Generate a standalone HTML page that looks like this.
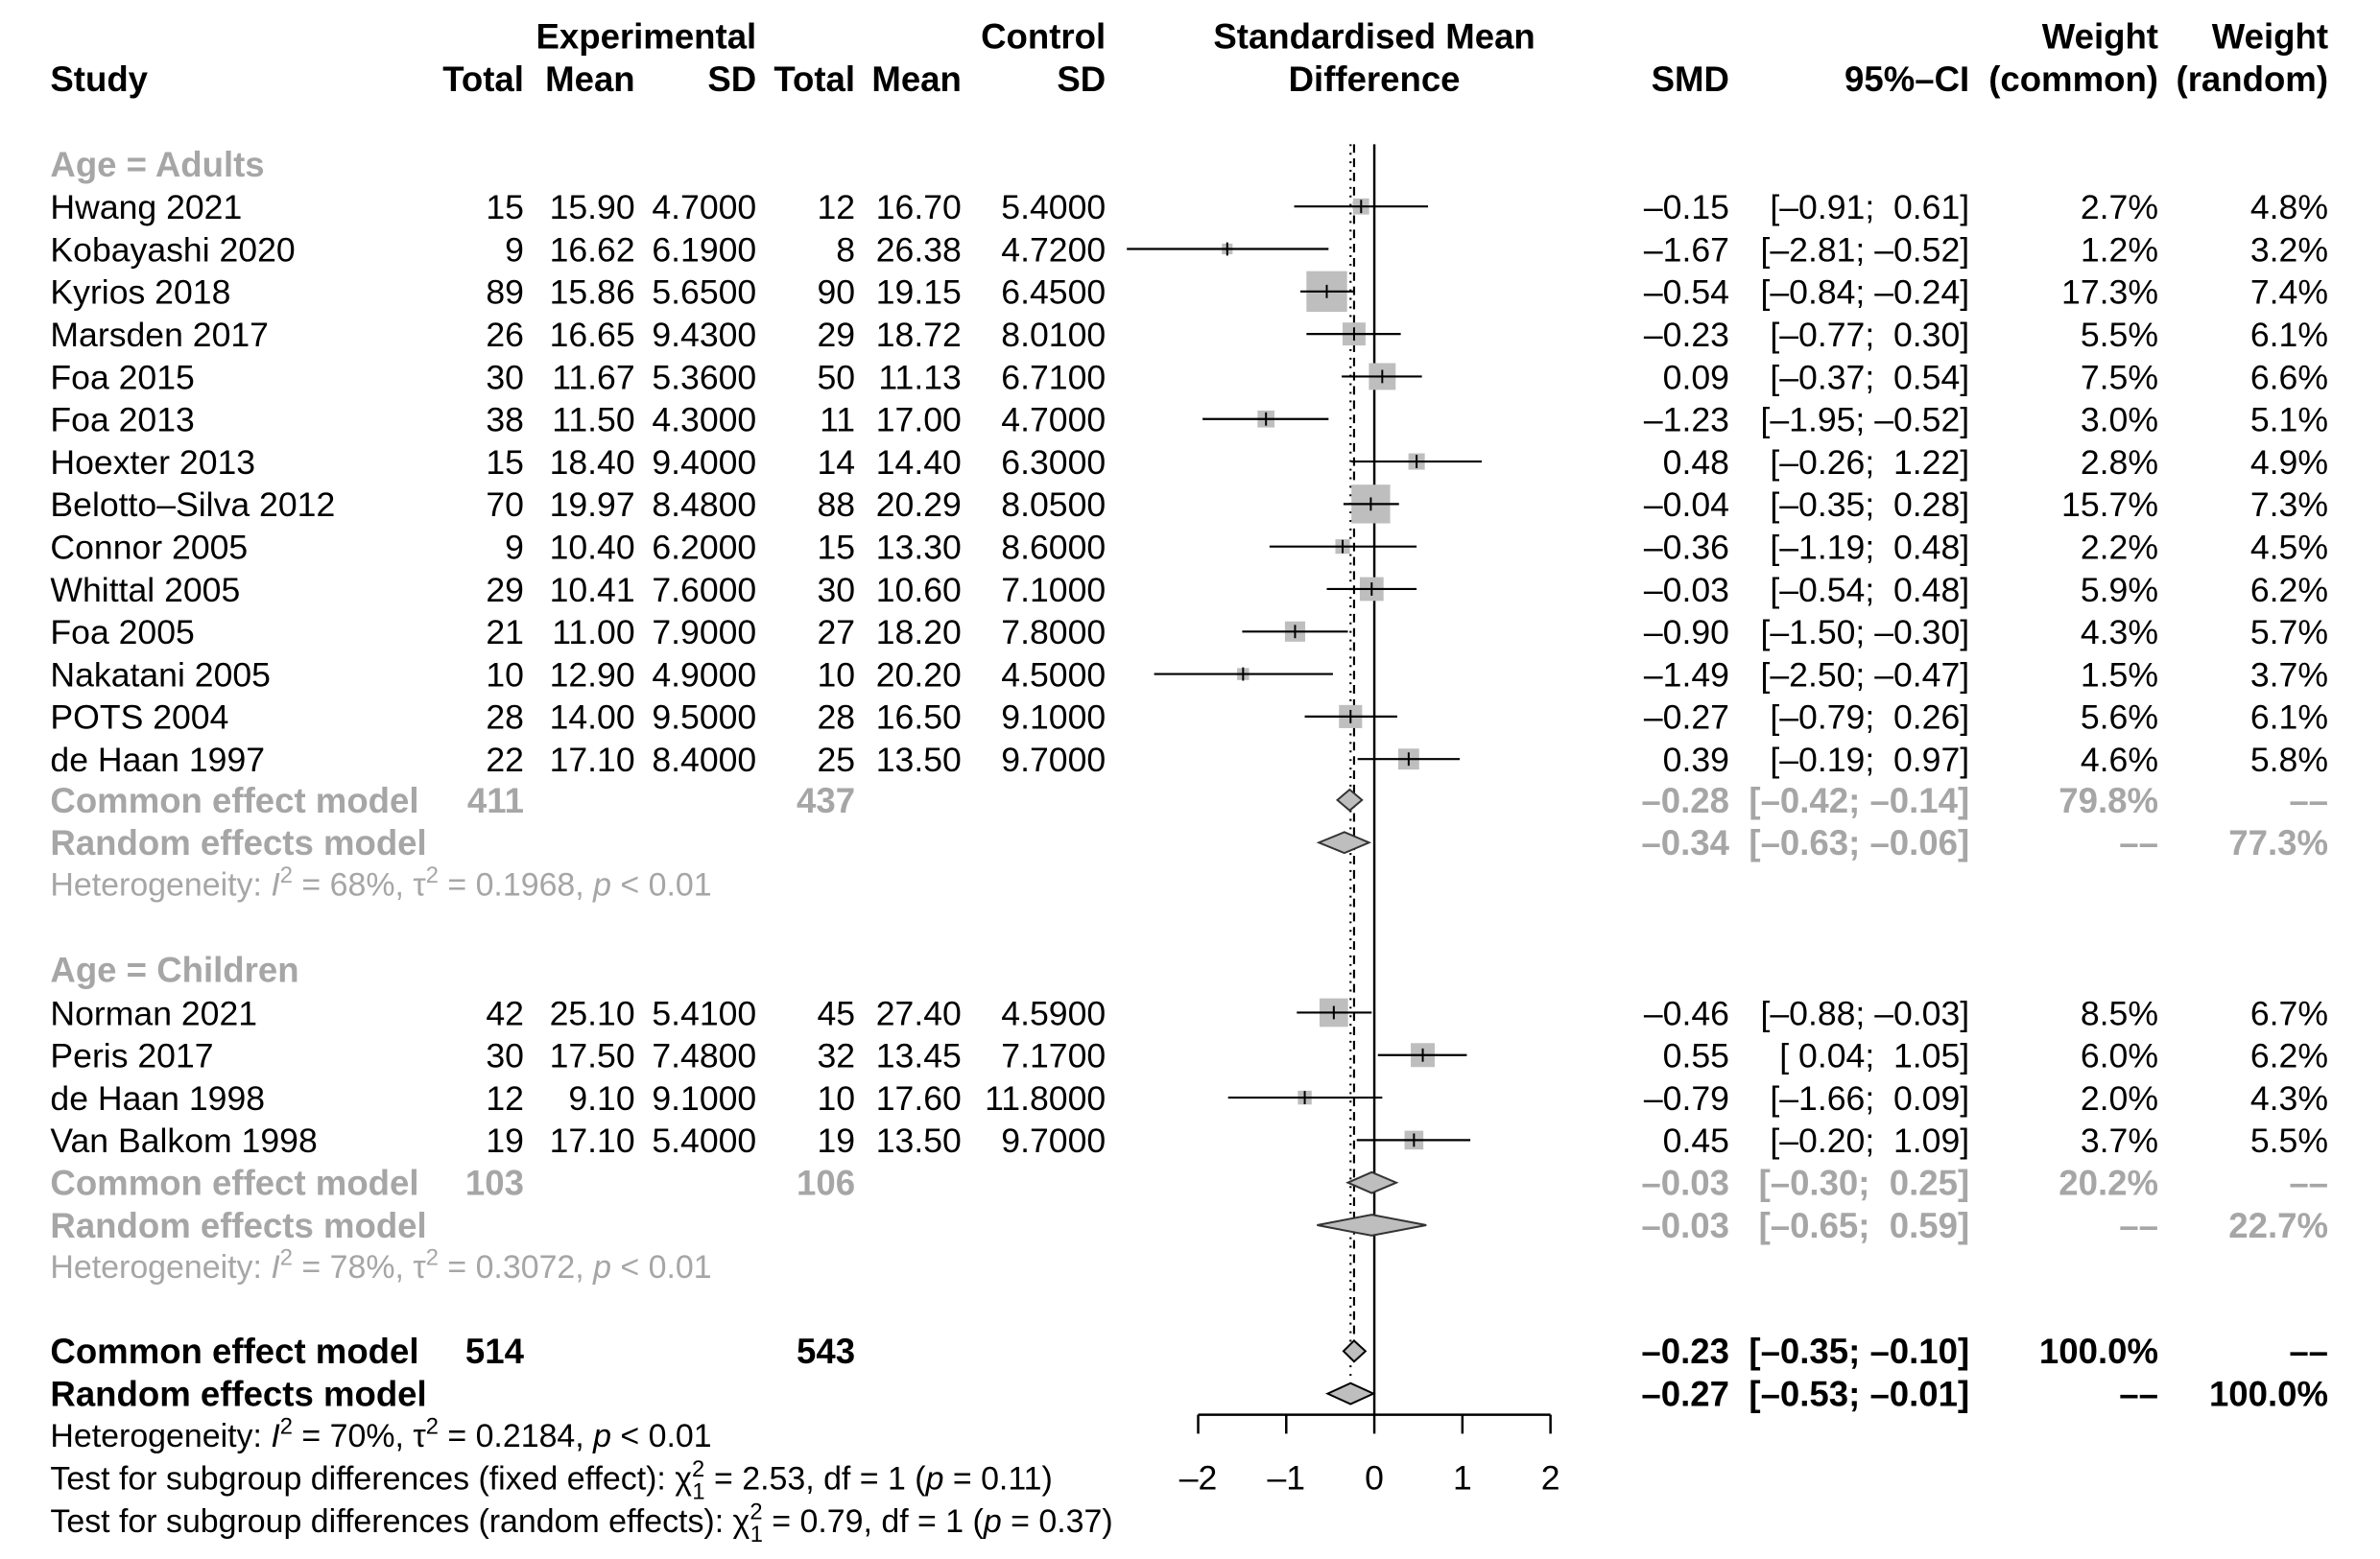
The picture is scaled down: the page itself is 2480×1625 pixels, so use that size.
<!DOCTYPE html>
<html><head><meta charset="utf-8"><style>
html,body{margin:0;padding:0;background:#fff;}
svg{display:block;font-family:"Liberation Sans",Arial,sans-serif;}
text{white-space:pre;}
</style></head><body>
<svg id="plot" width="2480" height="1625" viewBox="0 0 2480 1625" xmlns="http://www.w3.org/2000/svg" xml:space="preserve">
<g id="root" transform="scale(0.989)">
<g id="het" font-size="34.3" fill="#a6a6a6">
<text x="53" y="944">Heterogeneity: <tspan font-style="italic">I</tspan><tspan dy="-14" font-size="24">2</tspan><tspan dy="14"> = 68%, τ</tspan><tspan dy="-14" font-size="24">2</tspan><tspan dy="14"> = 0.1968, </tspan><tspan font-style="italic">p</tspan> &lt; 0.01</text>
<text x="53" y="1347">Heterogeneity: <tspan font-style="italic">I</tspan><tspan dy="-14" font-size="24">2</tspan><tspan dy="14"> = 78%, τ</tspan><tspan dy="-14" font-size="24">2</tspan><tspan dy="14"> = 0.3072, </tspan><tspan font-style="italic">p</tspan> &lt; 0.01</text>
<text x="53" y="1525" fill="#000">Heterogeneity: <tspan font-style="italic">I</tspan><tspan dy="-14" font-size="24">2</tspan><tspan dy="14"> = 70%, τ</tspan><tspan dy="-14" font-size="24">2</tspan><tspan dy="14"> = 0.2184, </tspan><tspan font-style="italic">p</tspan> &lt; 0.01</text>
<text x="53" y="1570" fill="#000">Test for subgroup differences (fixed effect): χ<tspan dy="-14" font-size="24">2</tspan><tspan dx="-13" dy="24" font-size="24">1</tspan><tspan dy="-10"> = 2.53, df = 1 (</tspan><tspan font-style="italic">p</tspan> = 0.11)</text>
<text x="53" y="1615" fill="#000">Test for subgroup differences (random effects): χ<tspan dy="-14" font-size="24">2</tspan><tspan dx="-13" dy="24" font-size="24">1</tspan><tspan dy="-10"> = 0.79, df = 1 (</tspan><tspan font-style="italic">p</tspan> = 0.37)</text>
</g>
</g>
</svg>
<script>
const studyNames=["Hwang 2021","Kobayashi 2020","Kyrios 2018","Marsden 2017","Foa 2015","Foa 2013","Hoexter 2013","Belotto–Silva 2012","Connor 2005","Whittal 2005","Foa 2005","Nakatani 2005","POTS 2004","de Haan 1997","Norman 2021","Peris 2017","de Haan 1998","Van Balkom 1998"];
const studyGroup=[0,0,0,0,0,0,0,0,0,0,0,0,0,0,1,1,1,1];
const expN=["15","9","89","26","30","38","15","70","9","29","21","10","28","22","42","30","12","19"];
const expMean=["15.90","16.62","15.86","16.65","11.67","11.50","18.40","19.97","10.40","10.41","11.00","12.90","14.00","17.10","25.10","17.50","9.10","17.10"];
const expSD=["4.7000","6.1900","5.6500","9.4300","5.3600","4.3000","9.4000","8.4800","6.2000","7.6000","7.9000","4.9000","9.5000","8.4000","5.4100","7.4800","9.1000","5.4000"];
const ctlN=["12","8","90","29","50","11","14","88","15","30","27","10","28","25","45","32","10","19"];
const ctlMean=["16.70","26.38","19.15","18.72","11.13","17.00","14.40","20.29","13.30","10.60","18.20","20.20","16.50","13.50","27.40","13.45","17.60","13.50"];
const ctlSD=["5.4000","4.7200","6.4500","8.0100","6.7100","4.7000","6.3000","8.0500","8.6000","7.1000","7.8000","4.5000","9.1000","9.7000","4.5900","7.1700","11.8000","9.7000"];
const smd=[-0.15,-1.67,-0.54,-0.23,0.09,-1.23,0.48,-0.04,-0.36,-0.03,-0.90,-1.49,-0.27,0.39,-0.46,0.55,-0.79,0.45];
const ciLo=[-0.91,-2.81,-0.84,-0.77,-0.37,-1.95,-0.26,-0.35,-1.19,-0.54,-1.50,-2.50,-0.79,-0.19,-0.88,0.04,-1.66,-0.20];
const ciHi=[0.61,-0.52,-0.24,0.30,0.54,-0.52,1.22,0.28,0.48,0.48,-0.30,-0.47,0.26,0.97,-0.03,1.05,0.09,1.09];
const wCommon=[2.7,1.2,17.3,5.5,7.5,3.0,2.8,15.7,2.2,5.9,4.3,1.5,5.6,4.6,8.5,6.0,2.0,3.7];
const wRandom=[4.8,3.2,7.4,6.1,6.6,5.1,4.9,7.3,4.5,6.2,5.7,3.7,6.1,5.8,6.7,6.2,4.3,5.5];
const sumLabels=["Common effect model","Random effects model","Common effect model","Random effects model","Common effect model","Random effects model"];
const sumEst=[-0.28,-0.34,-0.03,-0.03,-0.23,-0.27];
const sumLo=[-0.42,-0.63,-0.30,-0.65,-0.35,-0.53];
const sumHi=[-0.14,-0.06,0.25,0.59,-0.10,-0.01];
const sumExpN=["411","","103","","514",""];
const sumCtlN=["437","","106","","543",""];
const sumWC=["79.8%","––","20.2%","––","100.0%","––"];
const sumWR=["––","77.3%","––","22.7%","––","100.0%"];
const tickVals=[-2,-1,0,1,2];

const NS="http://www.w3.org/2000/svg";
const svg=document.getElementById('root');
const GRAY="#a6a6a6";
const FS=36;
const X0=1448, UNIT=92.8;
function xs(v){return X0+v*UNIT;}
const studyRowY=[];
for(let i=0;i<14;i++) studyRowY.push(1.6*(136+28*i));
for(let i=0;i<4;i++) studyRowY.push(1.6*(667+28*i));
const sumRowY=[527,555,779,807,890,918].map(d=>d*1.6);
const COL={study:53,eN:552,eM:669,eS:797,cN:901,cM:1013,cS:1165,smd:1822,ci:2075,wc:2274,wr:2453};

function txt(x,y,s,anchor,name,opts){
  const t=document.createElementNS(NS,'text');
  t.setAttribute('x',x);t.setAttribute('y',y+13);
  t.setAttribute('text-anchor',anchor);
  t.setAttribute('font-size',(opts&&opts.bold)?37:FS);
  if(opts&&opts.bold)t.setAttribute('font-weight','bold');
  t.setAttribute('fill',(opts&&opts.fill)||'#000');
  t.textContent=s;
  
  
  svg.appendChild(t);return t;
}
function el(tag,attrs){const e=document.createElementNS(NS,tag);for(const k in attrs)e.setAttribute(k,attrs[k]);svg.appendChild(e);return e;}
function f2(v){return (v<0?'–':'')+Math.abs(v).toFixed(2);}
function pad(v){return (v<0?'':' ')+f2(v);}
function ci(lo,hi){return '['+pad(lo)+'; '+pad(hi)+']';}

const B={bold:true};
txt(797,38,"Experimental",'end','header-experimental',B);
txt(1165,38,"Control",'end','header-control',B);
txt(1448,38,"Standardised Mean",'middle','header-smd-title',B);
txt(2274,38,"Weight",'end','header-weight-common-1',B);
txt(2453,38,"Weight",'end','header-weight-random-1',B);
txt(53,83,"Study",'start','header-study',B);
txt(552,83,"Total",'end','header-exp-total',B);
txt(669,83,"Mean",'end','header-exp-mean',B);
txt(797,83,"SD",'end','header-exp-sd',B);
txt(901,83,"Total",'end','header-ctl-total',B);
txt(1013,83,"Mean",'end','header-ctl-mean',B);
txt(1165,83,"SD",'end','header-ctl-sd',B);
txt(1448,83,"Difference",'middle','header-smd-title-2',B);
txt(1822,83,"SMD",'end','header-smd',B);
txt(2075,83,"95%–CI",'end','header-ci',B);
txt(2274,83,"(common)",'end','header-weight-common-2',B);
txt(2453,83,"(random)",'end','header-weight-random-2',B);
txt(53,173,"Age = Adults",'start','subgroup-label-adults',{bold:true,fill:GRAY});
txt(53,1022,"Age = Children",'start','subgroup-label-children',{bold:true,fill:GRAY});

const zl=el('line',{x1:xs(0),x2:xs(0),y1:152,y2:1491,stroke:'#000','stroke-width':2.5});


const dl=el('line',{x1:xs(sumEst[4]),x2:xs(sumEst[4]),y1:152,y2:sumRowY[4]-11,stroke:'#000','stroke-width':2.2,'stroke-dasharray':'9 6'});


const ol=el('line',{x1:xs(sumEst[5]),x2:xs(sumEst[5]),y1:152,y2:sumRowY[5]-11,stroke:'#000','stroke-width':2.2,'stroke-dasharray':'2 7'});



for(let i=0;i<studyNames.length;i++){
  const y=studyRowY[i];
  txt(COL.study,y,studyNames[i],'start','study-name');
  txt(COL.eN,y,expN[i],'end','exp-total');
  txt(COL.eM,y,expMean[i],'end','exp-mean');
  txt(COL.eS,y,expSD[i],'end','exp-sd');
  txt(COL.cN,y,ctlN[i],'end','ctl-total');
  txt(COL.cM,y,ctlMean[i],'end','ctl-mean');
  txt(COL.cS,y,ctlSD[i],'end','ctl-sd');
  txt(COL.smd,y,f2(smd[i]),'end','smd-value');
  txt(COL.ci,y,ci(ciLo[i],ciHi[i]),'end','ci-value');
  txt(COL.wc,y,wCommon[i].toFixed(1)+'%','end','weight-common');
  txt(COL.wr,y,wRandom[i].toFixed(1)+'%','end','weight-random');
  const s=10.3*Math.sqrt(wCommon[i]);
  const sq=el('rect',{x:xs(smd[i])-s/2,y:y-s/2,width:s,height:s,fill:'#bebebe'});
  
  
  const ln=el('line',{x1:xs(ciLo[i]),x2:xs(ciHi[i]),y1:y,y2:y,stroke:'#000','stroke-width':2.2});
  
  
  const tk=el('line',{x1:xs(smd[i]),x2:xs(smd[i]),y1:y-7,y2:y+7,stroke:'#000','stroke-width':2});
  
  
}

for(let j=0;j<6;j++){
  const y=sumRowY[j];
  const overall=j>=4;
  const o={bold:true,fill:overall?'#000':GRAY};
  txt(COL.study,y,sumLabels[j],'start','summary-label',o);
  if(sumExpN[j])txt(COL.eN,y,sumExpN[j],'end','summary-exp-total',o);
  if(sumCtlN[j])txt(COL.cN,y,sumCtlN[j],'end','summary-ctl-total',o);
  txt(COL.smd,y,f2(sumEst[j]),'end','summary-smd',o);
  txt(COL.ci,y,ci(sumLo[j],sumHi[j]),'end','summary-ci',o);
  txt(COL.wc,y,sumWC[j],'end','summary-weight-common',o);
  txt(COL.wr,y,sumWR[j],'end','summary-weight-random',o);
  const h=11;
  const d=el('polygon',{points:`${xs(sumLo[j])},${y} ${xs(sumEst[j])},${y-h} ${xs(sumHi[j])},${y} ${xs(sumEst[j])},${y+h}`,fill:'#bebebe',stroke:overall?'#000':'#333','stroke-width':2});
  
  
}

const ax=el('line',{x1:xs(tickVals[0]),x2:xs(tickVals[tickVals.length-1]),y1:1491,y2:1491,stroke:'#000','stroke-width':2.5});


for(const v of tickVals){
  const tk=el('line',{x1:xs(v),x2:xs(v),y1:1491,y2:1511,stroke:'#000','stroke-width':2.5});
  
  
  txt(xs(v),1557,(v<0?'–':'')+Math.abs(v),'middle','x-tick-label');
}
svg.appendChild(document.getElementById('het'));
</script>
</body></html>
